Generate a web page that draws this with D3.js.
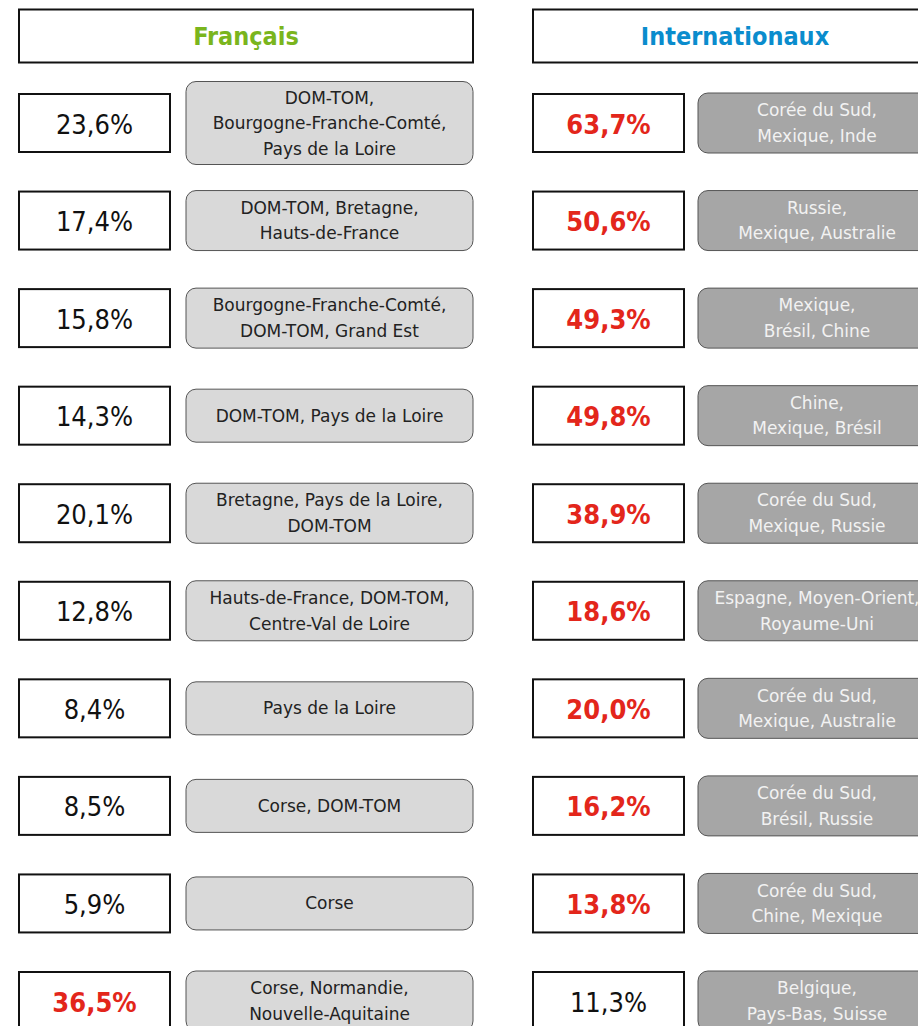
<!DOCTYPE html>
<html>
<head>
<meta charset="utf-8">
<script src="https://cdn.jsdelivr.net/npm/d3@7"></script>
<style>
	body { margin: 0; background: #fff; }
	svg { display: block; }
</style>
</head>
<body>
<svg id="chart"></svg>
<script>
let width = 918;
let height = 1026;

// donnees
const rowIndex = [0, 1, 2, 3, 4, 5, 6, 7, 8, 9];

const frenchValues = [23.6, 17.4, 15.8, 14.3, 20.1, 12.8, 8.4, 8.5, 5.9, 36.5];
const frenchHighlight = [false, false, false, false, false, false, false, false, false, true];
const frenchRegions = [
	["DOM-TOM,", "Bourgogne-Franche-Comté,", "Pays de la Loire"],
	["DOM-TOM, Bretagne,", "Hauts-de-France"],
	["Bourgogne-Franche-Comté,", "DOM-TOM, Grand Est"],
	["DOM-TOM, Pays de la Loire"],
	["Bretagne, Pays de la Loire,", "DOM-TOM"],
	["Hauts-de-France, DOM-TOM,", "Centre-Val de Loire"],
	["Pays de la Loire"],
	["Corse, DOM-TOM"],
	["Corse"],
	["Corse, Normandie,", "Nouvelle-Aquitaine"]
];

const intlValues = [63.7, 50.6, 49.3, 49.8, 38.9, 18.6, 20.0, 16.2, 13.8, 11.3];
const intlHighlight = [true, true, true, true, true, true, true, true, true, false];
const intlCountries = [
	["Corée du Sud,", "Mexique, Inde"],
	["Russie,", "Mexique, Australie"],
	["Mexique,", "Brésil, Chine"],
	["Chine,", "Mexique, Brésil"],
	["Corée du Sud,", "Mexique, Russie"],
	["Espagne, Moyen-Orient,", "Royaume-Uni"],
	["Corée du Sud,", "Mexique, Australie"],
	["Corée du Sud,", "Brésil, Russie"],
	["Corée du Sud,", "Chine, Mexique"],
	["Belgique,", "Pays-Bas, Suisse"]
];

const headers = ["Français", "Internationaux"];

const frLocale = d3.formatLocale({decimal: ",", thousands: " ", grouping: [3], currency: ["", " €"]});
const fmt = d => frLocale.format(".1f")(d) + "%";

const FONT = "'DejaVu Sans Condensed', 'DejaVu Sans', sans-serif";
const LABEL_FONT = "'DejaVu Sans', sans-serif";
const RED = "#e3261b";

let y = d3.scalePoint()
	.domain(rowIndex)
	.range([123, 1001]);

// hauteur des cartouches gris selon le nombre de lignes
let boxH = d3.scaleOrdinal()
	.domain([1, 2, 3])
	.range([53, 60, 83]);

let svg = d3.select("#chart")
	.attr("width", width)
	.attr("height", height);

const columns = [
	{header: headers[0], color: "#7ab51d", hx: 19, hw: 454, vx: 19, gx: 186, gw: 287,
		values: frenchValues, hl: frenchHighlight, labels: frenchRegions,
		fill: "#d9d9d9", text: "#222222"},
	{header: headers[1], color: "#0a8ccd", hx: 533, hw: 404, vx: 533, gx: 698, gw: 238,
		values: intlValues, hl: intlHighlight, labels: intlCountries,
		fill: "#a6a6a6", text: "#f2f2f2"}
];

function draw_column(c) {
	let g = svg.append("g");

	g.append("rect")
		.attr("x", c.hx).attr("y", 9.5)
		.attr("width", c.hw).attr("height", 53)
		.attr("fill", "#fff").attr("stroke", "#111").attr("stroke-width", 2);
	g.append("text")
		.attr("x", c.hx + c.hw / 2).attr("y", 36)
		.attr("text-anchor", "middle").attr("dominant-baseline", "central")
		.attr("font-family", FONT).attr("font-weight", "bold").attr("font-size", 25)
		.attr("fill", c.color)
		.text(c.header);

	let rows = g.selectAll("g.row")
		.data(rowIndex).enter()
		.append("g").attr("class", "row")
		.attr("transform", i => `translate(0,${y(i)})`);

	rows.append("rect")
		.attr("x", c.vx).attr("y", -29)
		.attr("width", 151).attr("height", 58)
		.attr("fill", "#fff").attr("stroke", "#111").attr("stroke-width", 2);

	rows.append("text")
		.attr("x", c.vx + 75.5).attr("y", 1)
		.attr("text-anchor", "middle").attr("dominant-baseline", "central")
		.attr("font-family", FONT).attr("font-size", 27)
		.attr("font-weight", i => c.hl[i] ? "bold" : "normal")
		.attr("fill", i => c.hl[i] ? RED : "#111")
		.text(i => fmt(c.values[i]));

	rows.append("rect")
		.attr("x", c.gx).attr("y", i => -boxH(c.labels[i].length) / 2)
		.attr("width", c.gw).attr("height", i => boxH(c.labels[i].length))
		.attr("rx", 10).attr("ry", 10)
		.attr("fill", c.fill).attr("stroke", "#555").attr("stroke-width", 1);

	rows.each(function(i) {
		let lines = c.labels[i];
		let t = d3.select(this).append("text")
			.attr("text-anchor", "middle")
			.attr("font-family", LABEL_FONT).attr("font-size", 17)
			.attr("fill", c.text);
		t.selectAll("tspan")
			.data(lines).enter()
			.append("tspan")
			.attr("x", c.gx + c.gw / 2)
			.attr("y", (d, k) => (k - (lines.length - 1) / 2) * 25.5)
			.attr("dominant-baseline", "central")
			.text(d => d);
	});
}

columns.forEach(draw_column);
</script>
</body>
</html>
